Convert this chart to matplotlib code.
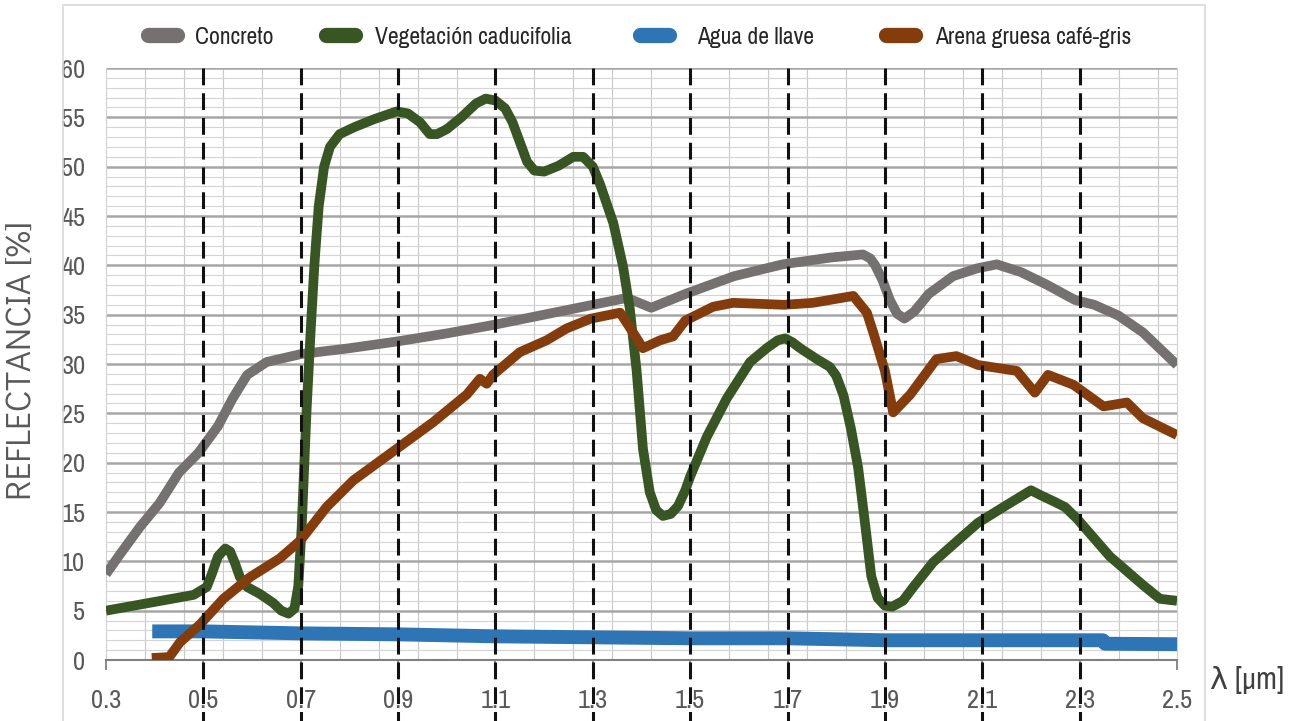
import numpy as np
import matplotlib
matplotlib.use('Agg')
import matplotlib.pyplot as plt
from matplotlib.lines import Line2D
from matplotlib.patches import Rectangle
from matplotlib.ticker import MultipleLocator, FixedLocator

W, H = 1297, 721

# spectra (wavelength in um, reflectance in %)
concrete_wl = [0.30, 0.33, 0.37, 0.41, 0.45, 0.49, 0.53, 0.56, 0.59, 0.63, 0.70, 0.80,
               0.90, 1.00, 1.10, 1.20, 1.30, 1.37, 1.42, 1.49, 1.59, 1.69, 1.79, 1.855,
               1.87, 1.88, 1.895, 1.91, 1.925, 1.94, 1.96, 1.99, 2.04, 2.09, 2.13, 2.18,
               2.23, 2.29, 2.33, 2.38, 2.43, 2.50]
concrete_r = [8.7, 10.8, 13.5, 15.9, 19.0, 21.0, 23.7, 26.5, 28.9, 30.2, 31.0, 31.6,
              32.3, 33.1, 34.0, 35.0, 36.0, 36.7, 35.7, 37.1, 38.9, 40.1, 40.8, 41.1,
              40.7, 40.0, 38.5, 36.5, 35.1, 34.6, 35.3, 37.1, 38.9, 39.7, 40.1, 39.3,
              38.1, 36.5, 36.0, 34.9, 33.2, 29.9]

vegetation_wl = [0.30, 0.39, 0.48, 0.507, 0.518, 0.53, 0.545, 0.555, 0.565, 0.575,
                 0.59, 0.616, 0.643, 0.66, 0.675, 0.687, 0.695, 0.702, 0.712, 0.72,
                 0.728, 0.737, 0.748, 0.76, 0.78, 0.81, 0.85, 0.897, 0.92, 0.945,
                 0.965, 0.98, 1.00, 1.03, 1.06, 1.08, 1.10, 1.12, 1.135, 1.15,
                 1.165, 1.18, 1.20, 1.23, 1.26, 1.28, 1.30, 1.315, 1.342, 1.362,
                 1.376, 1.39, 1.403, 1.417, 1.43, 1.444, 1.46, 1.475, 1.49, 1.50,
                 1.534, 1.575, 1.623, 1.657, 1.68, 1.695, 1.71, 1.726, 1.76, 1.787,
                 1.80, 1.815, 1.83, 1.845, 1.86, 1.872, 1.885, 1.90, 1.915, 1.937,
                 1.96, 1.999, 2.054, 2.091, 2.15, 2.18, 2.20, 2.22, 2.25, 2.27,
                 2.295, 2.362, 2.43, 2.465, 2.50]
vegetation_r = [5.0, 5.8, 6.6, 7.4, 8.8, 10.5, 11.3, 11.0, 9.8, 8.4,
                7.4, 6.7, 5.8, 5.0, 4.7, 5.2, 7.5, 13.5, 25.3, 33.0,
                40.0, 46.0, 50.0, 52.0, 53.3, 54.0, 54.8, 55.6, 55.4, 54.5,
                53.3, 53.3, 53.8, 55.0, 56.4, 56.9, 56.7, 55.9, 54.5, 52.5,
                50.5, 49.6, 49.5, 50.1, 51.0, 51.0, 50.0, 48.2, 44.3, 39.9,
                35.6, 29.3, 21.4, 17.0, 15.2, 14.6, 14.8, 15.6, 17.2, 18.6,
                22.6, 26.5, 30.2, 31.6, 32.4, 32.6, 32.2, 31.6, 30.5, 29.7,
                28.8, 26.8, 23.5, 19.5, 13.5, 8.5, 6.3, 5.5, 5.4, 6.0,
                7.5, 9.9, 12.3, 13.9, 15.7, 16.6, 17.2, 16.7, 16.0, 15.5,
                14.3, 10.5, 7.6, 6.2, 6.0]

water_wl = [0.395, 0.5, 0.7, 0.9, 1.1, 1.3, 1.5, 1.7, 1.9, 2.1, 2.348, 2.352, 2.5]
water_r = [2.9, 2.9, 2.7, 2.6, 2.4, 2.3, 2.2, 2.2, 2.0, 2.0, 2.0, 1.65, 1.6]

sand_wl = [0.394, 0.43, 0.452, 0.493, 0.541, 0.596, 0.657, 0.699, 0.753, 0.808, 0.897,
           0.972, 1.041, 1.068, 1.082, 1.095, 1.15, 1.205, 1.246, 1.296, 1.356, 1.372,
           1.403, 1.438, 1.465, 1.49, 1.547, 1.588, 1.693, 1.752, 1.835, 1.863, 1.876,
           1.90, 1.917, 1.952, 2.006, 2.047, 2.091, 2.171, 2.208, 2.235, 2.287, 2.349,
           2.397, 2.43, 2.50]
sand_r = [0.2, 0.3, 1.8, 3.6, 6.2, 8.4, 10.3, 12.1, 15.5, 18.2, 21.4,
          24.1, 26.9, 28.5, 28.0, 28.9, 31.2, 32.4, 33.6, 34.6, 35.2, 34.0,
          31.6, 32.4, 32.8, 34.4, 35.8, 36.2, 36.0, 36.2, 36.9, 35.2, 33.2,
          29.3, 25.1, 26.9, 30.5, 30.8, 29.9, 29.3, 27.1, 28.9, 27.9, 25.7,
          26.1, 24.5, 22.8]

labels = ['Concreto', 'Vegetación caducifolia', 'Agua de llave', 'Arena gruesa café-gris']
colors = ['#767171', '#375623', '#2E75B6', '#843C0C']
x_ticks = [0.3, 0.5, 0.7, 0.9, 1.1, 1.3, 1.5, 1.7, 1.9, 2.1, 2.3, 2.5]
dashed_at = [0.5, 0.7, 0.9, 1.1, 1.3, 1.5, 1.7, 1.9, 2.1, 2.3]

narrow = ['Archivo Narrow', 'Liberation Sans Narrow', 'DejaVu Sans']
plt.rcParams['font.family'] = narrow

fig = plt.figure(figsize=(W / 100, H / 100), dpi=100)
ax = fig.add_axes([106 / W, 1 - 660 / H, (1177 - 106) / W, (660 - 68) / H])

series = [(concrete_wl, concrete_r, 7), (vegetation_wl, vegetation_r, 7),
          (water_wl, water_r, 10), (sand_wl, sand_r, 7)]
for (wl, r, lw), c in zip(series, colors):
    ax.plot(wl, r, color=c, lw=lw, solid_joinstyle='round', solid_capstyle='butt', zorder=3)

# hand drawn dashed markers through the plot and the labels
for x in dashed_at:
    ax.plot([x, x], [60, -8], color='#111111', lw=2.2, dashes=(5.5, 2.6),
            clip_on=False, zorder=5)

ax.set_xlim(0.3, 2.5)
ax.set_ylim(0, 60)
ax.set_xticks(x_ticks)
ax.set_xticklabels(['%.1f' % t for t in x_ticks])
ax.set_yticks(range(0, 61, 5))
ax.yaxis.set_minor_locator(MultipleLocator(1))
ax.xaxis.set_minor_locator(FixedLocator(np.arange(0.38, 2.49, 0.08)))
ax.set_axisbelow(True)
ax.grid(axis='y', which='minor', color='#d4d4d4', lw=0.8)
ax.grid(axis='y', which='major', color='#a6a6a6', lw=1.8)
ax.grid(axis='x', which='minor', color='#c8c8c8', lw=0.8)

ax.spines['top'].set_visible(False)
ax.spines['left'].set_color('#d0d0d0')
ax.spines['right'].set_color('#d0d0d0')
ax.spines['left'].set_linewidth(0.8)
ax.spines['right'].set_linewidth(0.8)
ax.spines['bottom'].set_color('#808080')
ax.spines['bottom'].set_linewidth(1.5)

ax.tick_params(axis='y', which='both', length=0, pad=15, labelsize=19, labelcolor='#595959')
ax.tick_params(axis='x', which='major', length=7, width=1.3, color='#808080', pad=14,
               labelsize=19, labelcolor='#595959')
ax.tick_params(axis='x', which='minor', length=0)

fig.text(1247 / W, 1 - 680 / H, 'λ [μm]', ha='center', va='center', fontsize=22, color='#404040')
fig.text(23 / W, 1 - 360 / H, 'REFLECTANCIA [%]', rotation=90, ha='center', va='center',
         fontsize=25.5, family=['Didact Gothic', 'DejaVu Sans'], color='#595959')

# legend drawn by hand across the top
marker_x = [140, 318, 632, 878]
text_x = [195, 375, 697, 935]
for lab, c, mx, tx in zip(labels, colors, marker_x, text_x):
    fig.add_artist(Line2D([(mx + 8) / W, (mx + 37) / W], [1 - 35 / H, 1 - 35 / H],
                          transform=fig.transFigure, lw=11, color=c, solid_capstyle='round'))
    fig.text(tx / W, 1 - 37 / H, lab, va='center', ha='left', fontsize=17, color='#262626')

# chart area border
fig.add_artist(Rectangle((63 / W, -0.05), (1205 - 63) / W, 1.05 - 5 / H, transform=fig.transFigure,
                         fill=False, edgecolor='#d9d9d9', lw=1.2))

fig.savefig('out.png', dpi=100)
